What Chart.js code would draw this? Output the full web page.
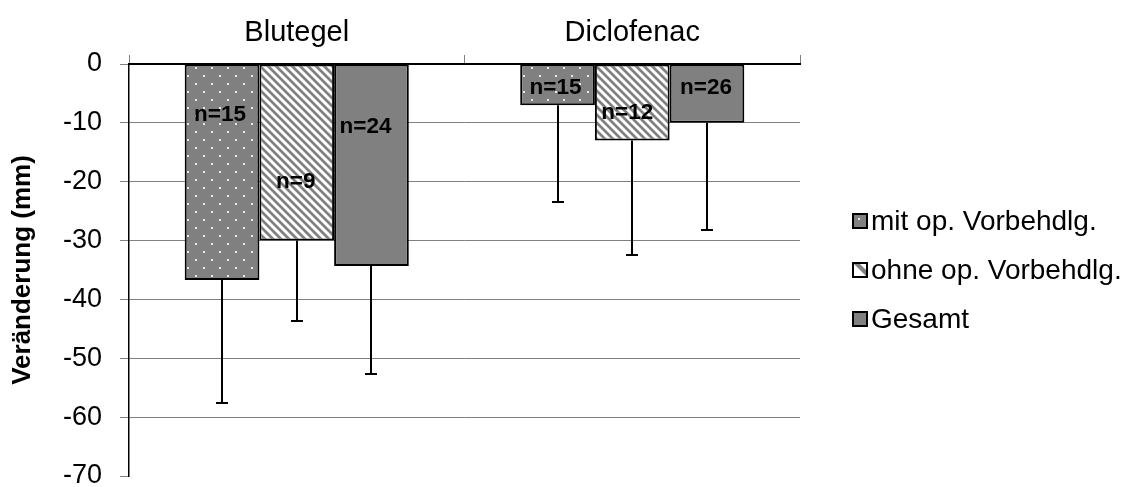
<!DOCTYPE html>
<html>
<head>
<meta charset="utf-8">
<script src="https://cdn.jsdelivr.net/npm/chart.js@4/dist/chart.umd.min.js"></script>
<style>
  html, body { margin: 0; padding: 0; background: #fff; }
  #wrap { width: 1129px; height: 487px; }
</style>
</head>
<body>
<div id="wrap"><canvas id="c" width="1129" height="487"></canvas></div>
<script>
// Mean change per group (mm), one-sided SD and group sizes
const categories = ['Blutegel', 'Diclofenac'];
const seriesNames = ['mit op. Vorbehdlg.', 'ohne op. Vorbehdlg.', 'Gesamt'];
const mitValues = [-36.7, -7.0];
const ohneValues = [-30.0, -13.0];
const gesamtValues = [-34.3, -10.0];
const mitSD = [20.9, 16.5];
const ohneSD = [13.7, 19.4];
const gesamtSD = [18.3, 18.2];
const mitN = [15, 15];
const ohneN = [9, 12];
const gesamtN = [24, 26];
const yMin = -70, yMax = 0, yStep = 10;

const FONT = "'Liberation Sans', Arial, Helvetica, sans-serif";
const GRAY = '#808080';

// where each "n=" label sits inside its bar: [dx, dy] in px from the zero line
const labelPlacement = [
  [[-2, 51], [-2, 24]],
  [[-1, 118], [-5, 49]],
  [[-6, 63], [-1, 24]]
];

function dotPattern(ctx) {
  const c = document.createElement('canvas');
  c.width = 16; c.height = 16;
  const g = c.getContext('2d');
  g.fillStyle = GRAY; g.fillRect(0, 0, 16, 16);
  g.fillStyle = '#e8e8e8';
  g.fillRect(3, 3, 2, 2);
  g.fillRect(11, 11, 2, 2);
  return ctx.createPattern(c, 'repeat');
}

function stripePattern(ctx) {
  const s = 8;
  const c = document.createElement('canvas');
  c.width = s; c.height = s;
  const g = c.getContext('2d');
  const img = g.createImageData(s, s);
  const shade = [200, 128, 128, 128, 200, 255, 255, 255];
  for (let y = 0; y < s; y++) {
    for (let x = 0; x < s; x++) {
      const d = ((x - y) % s + s) % s;
      const v = shade[d];
      const k = (y * s + x) * 4;
      img.data[k] = img.data[k + 1] = img.data[k + 2] = v;
      img.data[k + 3] = 255;
    }
  }
  g.putImageData(img, 0, 0);
  return ctx.createPattern(c, 'repeat');
}

const canvas = document.getElementById('c');
const ctx0 = canvas.getContext('2d');
const fills = [dotPattern(ctx0), stripePattern(ctx0), GRAY];

const seriesValues = [mitValues, ohneValues, gesamtValues];
const seriesSD = [mitSD, ohneSD, gesamtSD];
const seriesN = [mitN, ohneN, gesamtN];

const datasets = seriesNames.map((name, i) => ({
  label: name,
  data: seriesValues[i],
  sd: seriesSD[i],
  counts: seriesN[i],
  backgroundColor: fills[i],
  borderColor: '#000',
  borderWidth: 2,
  borderSkipped: false
}));

// one-sided error bars (downwards) and the "n=" labels
const barExtras = {
  id: 'barExtras',
  afterDatasetsDraw(chart) {
    const ctx = chart.ctx;
    const y = chart.scales.y;
    const zero = y.getPixelForValue(0);
    ctx.save();
    chart.data.datasets.forEach((ds, di) => {
      const meta = chart.getDatasetMeta(di);
      meta.data.forEach((bar, i) => {
        const v = ds.data[i];
        const yEnd = Math.round(y.getPixelForValue(v - ds.sd[i]));
        const x = Math.round(bar.x);
        ctx.strokeStyle = '#000';
        ctx.lineWidth = 2;
        ctx.beginPath();
        ctx.moveTo(x, bar.y);
        ctx.lineTo(x, yEnd);
        ctx.moveTo(x - 6, yEnd);
        ctx.lineTo(x + 6, yEnd);
        ctx.stroke();
      });
    });
    ctx.fillStyle = '#000';
    ctx.font = 'bold 22.5px ' + FONT;
    ctx.textAlign = 'center';
    ctx.textBaseline = 'middle';
    chart.data.datasets.forEach((ds, di) => {
      const meta = chart.getDatasetMeta(di);
      meta.data.forEach((bar, i) => {
        const p = labelPlacement[di][i];
        ctx.fillText('n=' + ds.counts[i], bar.x + p[0], zero + p[1]);
      });
    });
    ctx.restore();
  }
};

// legend to the right of the plot, vertically centred on it
const sideLegend = {
  id: 'sideLegend',
  afterDraw(chart) {
    const ctx = chart.ctx;
    const area = chart.chartArea;
    const mid = (area.top + area.bottom) / 2;
    const gap = 49;
    const bx = 853, size = 14;
    ctx.save();
    ctx.font = '28px ' + FONT;
    ctx.textBaseline = 'middle';
    ctx.textAlign = 'left';
    seriesNames.forEach((name, i) => {
      const cy = mid + (i - 1) * gap;
      const top = cy - size / 2;
      if (i === 0) {
        ctx.fillStyle = GRAY;
        ctx.fillRect(bx, top, size, size);
        ctx.fillStyle = '#e8e8e8';
        ctx.fillRect(bx + 5, top + 4, 2, 2);
      } else if (i === 1) {
        ctx.fillStyle = '#fff';
        ctx.fillRect(bx, top, size, size);
        ctx.fillStyle = GRAY;
        ctx.beginPath();
        ctx.moveTo(bx, top);
        ctx.lineTo(bx + 6, top);
        ctx.lineTo(bx + size, top + size - 6);
        ctx.lineTo(bx + size, top + size);
        ctx.closePath();
        ctx.fill();
      } else {
        ctx.fillStyle = GRAY;
        ctx.fillRect(bx, top, size, size);
      }
      ctx.strokeStyle = '#000';
      ctx.lineWidth = 2;
      ctx.strokeRect(bx, top, size, size);
      ctx.fillStyle = '#000';
      ctx.fillText(name, bx + size + 4, cy + 1);
    });
    ctx.restore();
  }
};

new Chart(canvas, {
  type: 'bar',
  data: { labels: categories, datasets },
  plugins: [barExtras, sideLegend],
  options: {
    responsive: false,
    animation: false,
    devicePixelRatio: 1,
    layout: { padding: { left: 0, right: 329, top: 0, bottom: 11 } },
    datasets: { bar: { categoryPercentage: 0.668, barPercentage: 1.0 } },
    plugins: { legend: { display: false }, tooltip: { enabled: false } },
    scales: {
      x: {
        position: 'top',
        offset: true,
        grid: { offset: true, drawOnChartArea: false, drawTicks: true, tickLength: 9, tickColor: GRAY, tickWidth: 1 },
        border: { display: true, color: '#000', width: 2 },
        ticks: { color: '#000', font: { family: FONT, size: 29 }, padding: 5 },
        afterFit(s) { s.height = 64; s.paddingLeft = 0; s.paddingRight = 0; }
      },
      y: {
        min: yMin,
        max: yMax,
        ticks: { stepSize: yStep, color: '#000', font: { family: FONT, size: 27 }, padding: 18 },
        grid: {
          color: c => (c.tick && (c.tick.value === yMin || c.tick.value === yMax)) ? 'rgba(0,0,0,0)' : GRAY,
          tickColor: GRAY,
          tickLength: 9,
          lineWidth: 1
        },
        border: { display: true, color: '#000', width: 1.5 },
        title: {
          display: true,
          text: 'Veränderung (mm)',
          color: '#000',
          font: { family: FONT, size: 26, weight: 'bold' },
          padding: { top: 7, bottom: 0 }
        },
        afterFit(s) { s.width = 129; s.paddingTop = 0; s.paddingBottom = 0; }
      }
    }
  }
});
</script>
</body>
</html>
